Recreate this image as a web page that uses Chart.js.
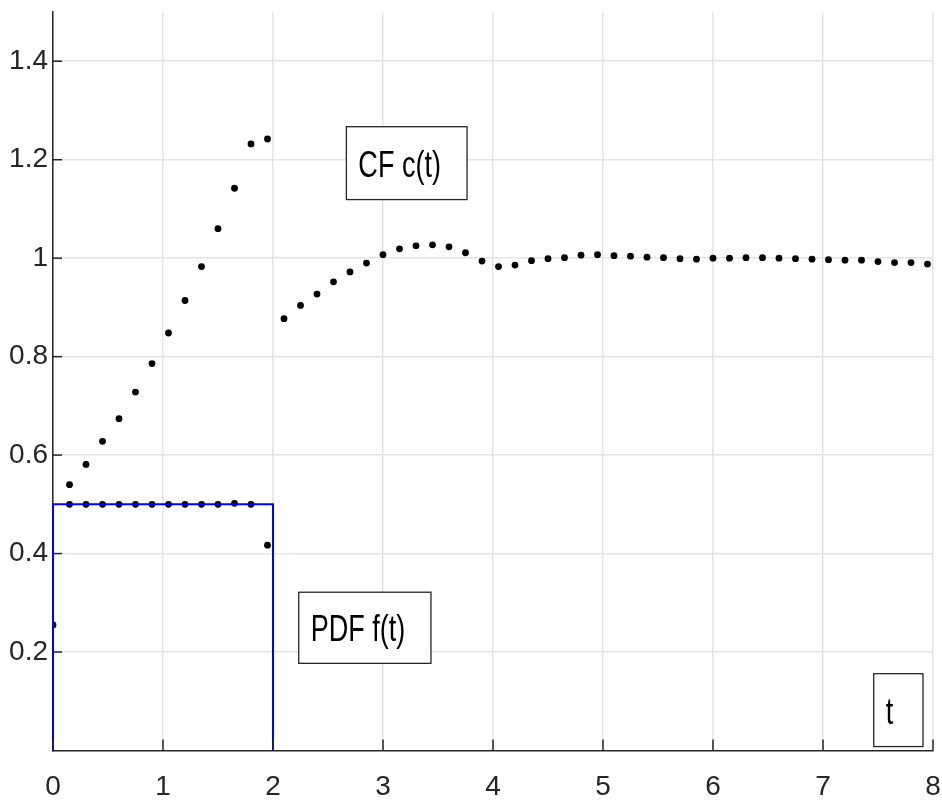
<!DOCTYPE html>
<html>
<head>
<meta charset="utf-8">
<script src="https://cdn.jsdelivr.net/npm/chart.js@4.4.1/dist/chart.umd.min.js"></script>
<style>
  html, body { margin: 0; padding: 0; background: #ffffff; }
  canvas { display: block; }
</style>
</head>
<body>
<canvas id="chart" width="942" height="803"></canvas>
<script>
// sample times (step 0.15)
const tGrid = [0, 0.15, 0.3, 0.45, 0.6, 0.75, 0.9, 1.05, 1.2, 1.35, 1.5, 1.65, 1.8, 1.95,
  2.1, 2.25, 2.4, 2.55, 2.7, 2.85, 3.0, 3.15, 3.3, 3.45, 3.6, 3.75, 3.9,
  4.05, 4.2, 4.35, 4.5, 4.65, 4.8, 4.95, 5.1, 5.25, 5.4, 5.55, 5.7, 5.85,
  6.0, 6.15, 6.3, 6.45, 6.6, 6.75, 6.9, 7.05, 7.2, 7.35, 7.5, 7.65, 7.8, 7.95];
// numeric PDF f(t), only nonzero up to t=1.95
const pdfVals = [0.255, 0.5, 0.5, 0.5, 0.5, 0.5, 0.5, 0.5, 0.5, 0.5, 0.5, 0.502, 0.5, 0.417];
// numeric CF c(t), from t=0.15
const cfVals = [0.54, 0.581, 0.628, 0.674, 0.728, 0.786, 0.848, 0.914, 0.983, 1.060, 1.142, 1.232, 1.242,
  0.877, 0.904, 0.927, 0.952, 0.972, 0.990, 1.007, 1.019, 1.025, 1.027, 1.023, 1.011, 0.994,
  0.983, 0.986, 0.995, 0.999, 1.001, 1.006, 1.007, 1.005, 1.004, 1.002, 1.001, 0.999, 0.998,
  1.000, 1.000, 1.001, 1.001, 1.000, 0.999, 0.998, 0.997, 0.996, 0.996, 0.993, 0.991, 0.991, 0.988];
// exact uniform PDF outline
const pdfLineT = [0, 0, 2, 2];
const pdfLineV = [0, 0.5, 0.5, 0];
// ticks
const xTicks = [0, 1, 2, 3, 4, 5, 6, 7, 8];
const yTicks = [0.2, 0.4, 0.6, 0.8, 1, 1.2, 1.4];
// text boxes (data coords: x0, x1, yTop, yBottom)
const boxes = [
  { text: "CF c(t)", x0: 2.667, x1: 3.764, y0: 1.267, y1: 1.119 },
  { text: "PDF f(t)", x0: 2.234, x1: 3.436, y0: 0.3215, y1: 0.177 },
  { text: "t", x0: 7.461, x1: 7.909, y0: 0.156, y1: 0.008 }
];

const FONT = "'Liberation Sans', Arial, sans-serif";
const AXIS = "#262626";

const pts = (xs, ys, off) => ys.map((v, i) => ({ x: xs[i + (off || 0)], y: v }));

// inward ticks + annotation boxes
const extras = {
  id: "extras",
  afterDatasetsDraw(chart) {
    const ctx = chart.ctx;
    const xs = chart.scales.x, ys = chart.scales.y;
    const a = chart.chartArea;
    ctx.save();
    ctx.strokeStyle = AXIS;
    ctx.lineWidth = 1.5;
    xTicks.forEach(v => {
      const px = xs.getPixelForValue(v);
      ctx.beginPath(); ctx.moveTo(px, a.bottom); ctx.lineTo(px, a.bottom - 11); ctx.stroke();
    });
    yTicks.forEach(v => {
      const py = ys.getPixelForValue(v);
      ctx.beginPath(); ctx.moveTo(a.left, py); ctx.lineTo(a.left + 9, py); ctx.stroke();
    });
    boxes.forEach(b => {
      const l = xs.getPixelForValue(b.x0), r = xs.getPixelForValue(b.x1);
      const t = ys.getPixelForValue(b.y0), bt = ys.getPixelForValue(b.y1);
      ctx.fillStyle = "#ffffff";
      ctx.fillRect(l, t, r - l, bt - t);
      ctx.strokeStyle = AXIS;
      ctx.lineWidth = 1.3;
      ctx.strokeRect(l, t, r - l, bt - t);
      ctx.fillStyle = "#000000";
      ctx.font = "37px " + FONT;
      ctx.textBaseline = "alphabetic";
      ctx.textAlign = "left";
      const base = (t + bt) / 2 + 13.5;
      ctx.save();
      ctx.translate(l + 12, base);
      ctx.scale(0.73, 1);
      ctx.fillText(b.text, 0, 0);
      ctx.restore();
    });
    ctx.restore();
  }
};

new Chart(document.getElementById("chart"), {
  type: "scatter",
  plugins: [extras],
  data: {
    datasets: [
      {
        data: pts(pdfLineT, pdfLineV),
        showLine: true,
        borderColor: "#0000ff",
        borderWidth: 2,
        pointRadius: 0,
        clip: 3
      },
      {
        data: pts(tGrid, pdfVals),
        pointRadius: 3.4,
        pointBackgroundColor: "#000000",
        pointBorderWidth: 0
      },
      {
        data: pts(tGrid, cfVals, 1),
        pointRadius: 3.4,
        pointBackgroundColor: "#000000",
        pointBorderWidth: 0
      }
    ]
  },
  options: {
    responsive: false,
    animation: false,
    devicePixelRatio: 1,
    layout: { padding: { top: 12, right: 9, left: 0, bottom: 0 } },
    plugins: { legend: { display: false }, tooltip: { enabled: false } },
    scales: {
      x: {
        type: "linear",
        min: 0,
        max: 8,
        afterBuildTicks: s => { s.ticks = xTicks.map(v => ({ value: v })); },
        afterFit: s => { s.height = 52.5; s.paddingLeft = 0; s.paddingRight = 0; },
        grid: { color: "#e4e4e4", lineWidth: 1.5, drawTicks: false },
        border: { color: AXIS, width: 1.5 },
        ticks: {
          color: AXIS,
          padding: 20,
          maxRotation: 0,
          font: { family: FONT, size: 28 },
          callback: v => String(Math.round(v * 10) / 10)
        }
      },
      y: {
        min: 0,
        max: 1.5,
        afterBuildTicks: s => { s.ticks = yTicks.map(v => ({ value: v })); },
        afterFit: s => { s.width = 53; s.paddingTop = 0; s.paddingBottom = 0; },
        grid: { color: "#e4e4e4", lineWidth: 1.5, drawTicks: false },
        border: { color: AXIS, width: 1.5 },
        ticks: {
          color: AXIS,
          padding: 5,
          font: { family: FONT, size: 28 },
          callback: v => String(Math.round(v * 10) / 10)
        }
      }
    }
  }
});
</script>
</body>
</html>
